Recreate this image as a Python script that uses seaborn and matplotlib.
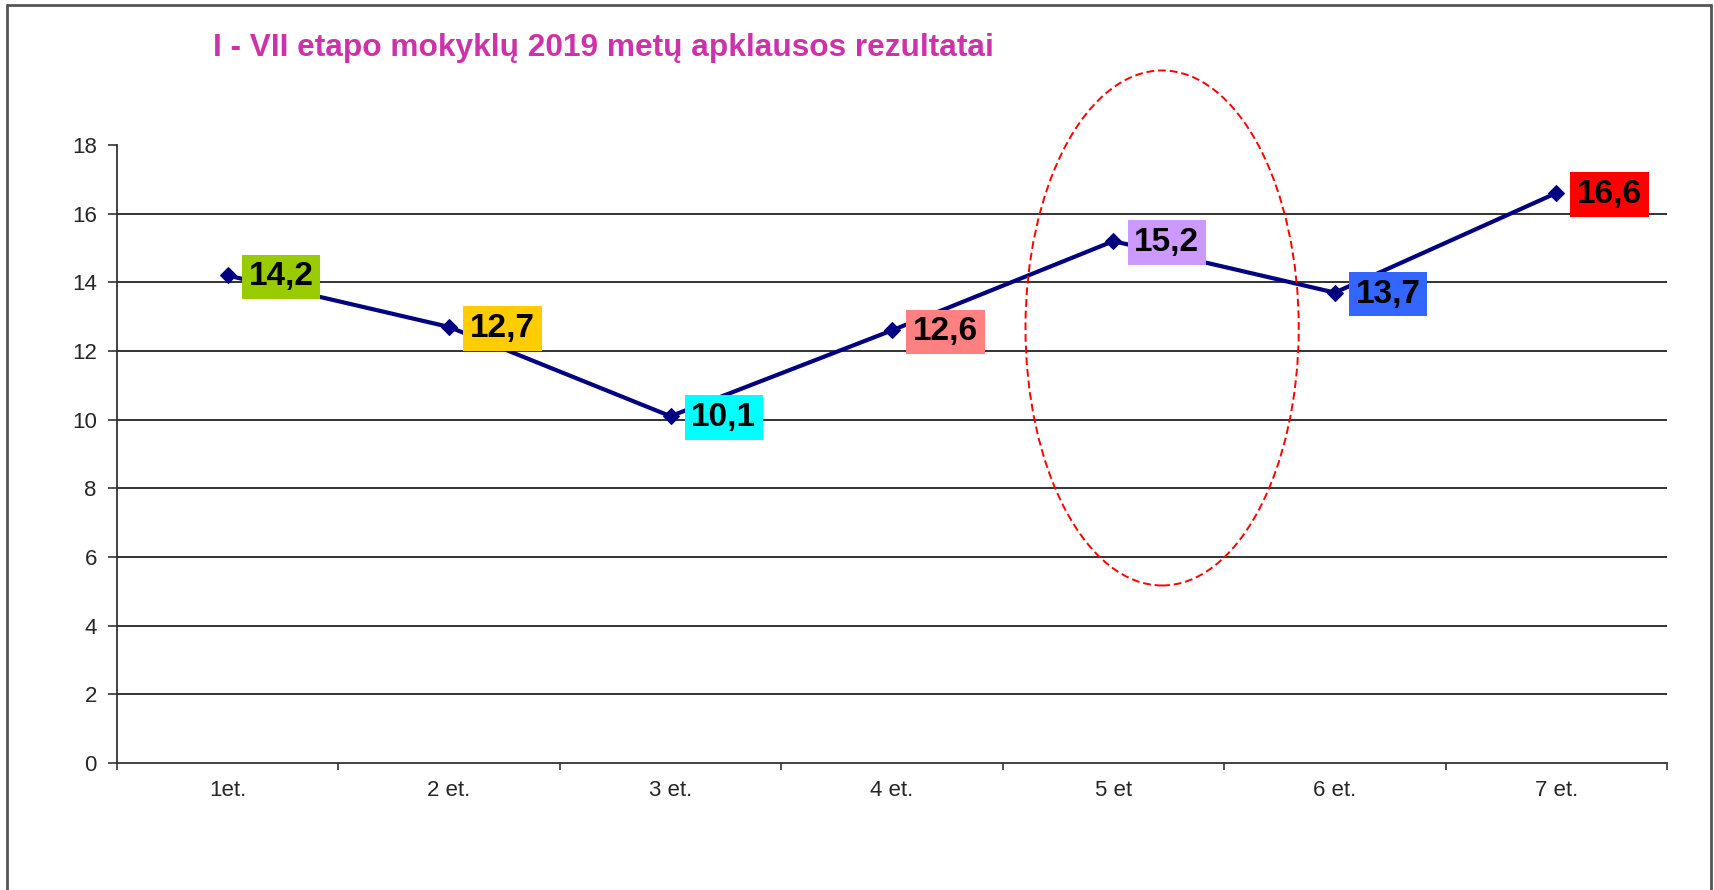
import matplotlib
matplotlib.use("Agg")
import matplotlib.pyplot as plt
import seaborn as sns
from matplotlib.patches import Ellipse
from matplotlib.lines import Line2D

# data
stages = ["1et.", "2 et.", "3 et.", "4 et.", "5 et", "6 et.", "7 et."]
scores = [14.2, 12.7, 10.1, 12.6, 15.2, 13.7, 16.6]
score_labels = ["14,2", "12,7", "10,1", "12,6", "15,2", "13,7", "16,6"]
label_colors = ["#99CC00", "#FFCC00", "#00FFFF", "#FF8080", "#CC99FF", "#3366FF", "#FF0000"]
y_ticks = [0, 2, 4, 6, 8, 10, 12, 14, 16, 18]

sns.set_style("white")
plt.rcParams["font.family"] = ["Liberation Sans", "DejaVu Sans"]

fig = plt.figure(figsize=(17.15, 8.9), dpi=100)
ax = fig.add_axes([0.0682, 0.1427, 0.9038, 0.6944])

sns.lineplot(x=stages, y=scores, sort=False, ax=ax, color="#000080", linewidth=3,
             marker="D", markersize=8.5, markeredgecolor="#000080", markerfacecolor="#000080")

# value labels in coloured boxes
for i, (v, txt, c) in enumerate(zip(scores, score_labels, label_colors)):
    ax.annotate(txt, (i, v), xytext=(15, -1), textcoords="offset points",
                ha="left", va="center", fontsize=24, fontweight="bold", color="black",
                bbox=dict(boxstyle="square,pad=0.2", fc=c, ec="none"), zorder=5)

# dashed ellipse around stage 5
ax.add_patch(Ellipse((4.22, 12.67), 1.234, 15.0, fill=False, ec="#FF0000",
                     ls=(0, (4, 2)), lw=1.4, clip_on=False, zorder=6))

ax.set_xlim(-0.5, 6.5)
ax.set_ylim(0, 18)
ax.set_yticks(y_ticks)
ax.set_xticks(range(len(stages)))
ax.set_xticklabels(stages)
ax.set_xticks([i - 0.5 for i in range(len(stages) + 1)], minor=True)
ax.set_xlabel("")
ax.set_ylabel("")

for y in y_ticks[1:-1]:
    ax.axhline(y, color="#222222", lw=1.3, zorder=1)

sns.despine(ax=ax, top=True, right=True)
for s in ["left", "bottom"]:
    ax.spines[s].set_color("#333333")
    ax.spines[s].set_linewidth(1.3)

ax.tick_params(axis="y", length=6.5, width=1.2, color="#333333", pad=8,
               labelsize=16, left=True, direction="out")
ax.tick_params(axis="x", which="major", length=0, pad=12, labelsize=16)
ax.tick_params(axis="x", which="minor", length=5, width=1.2, color="#333333",
               bottom=True, direction="out")

fig.text(0.1242, 0.946, "I - VII etapo mokyklų 2019 metų apklausos rezultatai",
         fontsize=22.8, fontweight="bold", color="#CC33AA", ha="left", va="center")

# outer chart frame
frame = dict(color="#555555", lw=2, transform=fig.transFigure)
fig.add_artist(Line2D([7 / 1715, 7 / 1715], [-0.01, 1 - 5 / 890], **frame))
fig.add_artist(Line2D([7 / 1715, 1711 / 1715], [1 - 5 / 890, 1 - 5 / 890], **frame))
fig.add_artist(Line2D([1711 / 1715, 1711 / 1715], [-0.01, 1 - 5 / 890], **frame))

plt.savefig("out.png", dpi=100)
